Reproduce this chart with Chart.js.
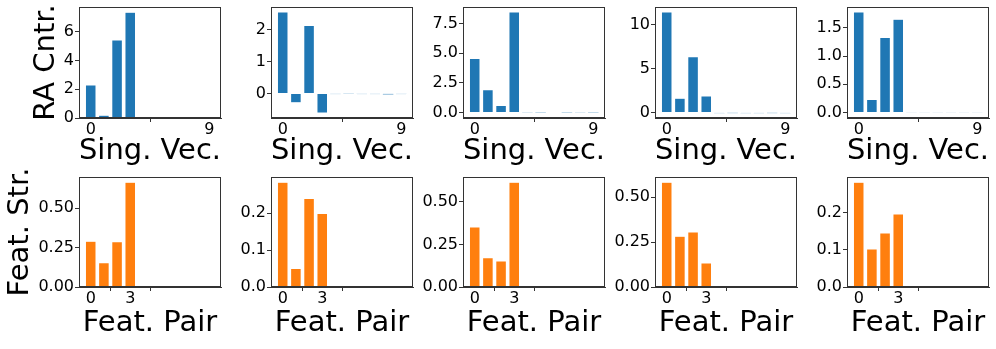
<!DOCTYPE html>
<html>
<head>
<meta charset="utf-8">
<script src="https://cdn.jsdelivr.net/npm/chart.js@4.4.0/dist/chart.umd.min.js"></script>
<style>
  body { margin: 0; background: #fff; width: 996px; height: 349px; overflow: hidden; position: relative; }
  canvas { position: absolute; }
</style>
</head>
<body>
<script>
// singular vector / feature pair index
const categories = [0, 1, 2, 3, 4, 5, 6, 7, 8, 9];

// top row: RA contribution per singular vector
const raCntr1 = [2.29, 0.19, 5.43, 7.36, 0, 0, 0, 0, 0, 0];
const raCntr2 = [2.54, -0.29, 2.12, -0.61, -0.02, -0.01, -0.02, -0.02, -0.03, -0.02];
const raCntr3 = [4.56, 1.93, 0.59, 8.49, -0.03, -0.02, -0.04, -0.02, -0.03, -0.02];
const raCntr4 = [11.43, 1.62, 6.34, 1.88, -0.04, -0.03, -0.04, -0.04, -0.03, -0.04];
const raCntr5 = [1.78, 0.23, 1.33, 1.65, -0.01, -0.01, -0.01, -0.01, -0.01, -0.01];

// bottom row: feature strength per feature pair
const featStr1 = [0.291, 0.154, 0.287, 0.665, 0, 0, 0, 0, 0, 0];
const featStr2 = [0.284, 0.050, 0.240, 0.199, 0, 0, 0, 0, 0, 0];
const featStr3 = [0.351, 0.171, 0.152, 0.614, 0, 0, 0, 0, 0, 0];
const featStr4 = [0.583, 0.283, 0.306, 0.133, 0, 0, 0, 0, 0, 0];
const featStr5 = [0.281, 0.102, 0.145, 0.196, 0, 0, 0, 0, 0, 0];

// tick labels
const topYTicks = [['0', '2', '4', '6'], ['0', '1', '2'], ['0.0', '2.5', '5.0', '7.5'], ['0', '5', '10'], ['0.0', '0.5', '1.0', '1.5']];
const bottomYTicks = [['0.00', '0.25', '0.50'], ['0.0', '0.1', '0.2'], ['0.00', '0.25', '0.50'], ['0.00', '0.25', '0.50'], ['0.0', '0.1', '0.2']];
const topXTicks = ['0', '9'];
const bottomXTicks = ['0', '3'];

Chart.defaults.font.family = "'DejaVu Sans', sans-serif";
Chart.defaults.color = '#000';

const colLeft = [79, 271, 463, 655, 847];
const axW = 142;
const padR = 8;

const rows = [
  { axT: 7, axH: 111, padT: 7, xH: 51, firstYW: 50, color: '#1f77b4',
    series: [raCntr1, raCntr2, raCntr3, raCntr4, raCntr5],
    yTicks: topYTicks, xTicks: topXTicks, xTitle: 'Sing. Vec.', yTitle: 'RA Cntr.' },
  { axT: 177, axH: 110, padT: 14, xH: 54, firstYW: 76, color: '#ff7f0e',
    series: [featStr1, featStr2, featStr3, featStr4, featStr5],
    yTicks: bottomYTicks, xTicks: bottomXTicks, xTitle: 'Feat. Pair', yTitle: 'Feat. Str.' }
];

// matplotlib-like limits (5% margins, bars stick to zero)
function ylim(vals) {
  const mn = Math.min(0, ...vals), mx = Math.max(0, ...vals);
  const m = 0.05 * (mx - mn);
  return [mn < 0 ? mn - m : 0, mx + m];
}
function xlim(n) {
  const lo = -0.4, hi = n - 1 + 0.4, m = 0.05 * (hi - lo);
  return [lo - m, hi + m];
}

// top and right spines
const frame = {
  id: 'frame',
  afterDraw(chart) {
    const a = chart.chartArea, ctx = chart.ctx;
    ctx.save();
    ctx.strokeStyle = '#333';
    ctx.lineWidth = 1;
    const l = Math.round(a.left) + 0.5, t = Math.round(a.top) + 0.5;
    const r = Math.round(a.right) - 0.5, b = Math.round(a.bottom) - 0.5;
    ctx.strokeRect(l, t, r - l, b - t);
    ctx.restore();
  }
};

function makePanel(row, col) {
  const vals = row.series[col];
  const yW = col === 0 ? row.firstYW : 50;
  const w = yW + axW + padR, h = row.padT + row.axH + row.xH;
  const cv = document.createElement('canvas');
  cv.width = w; cv.height = h;
  cv.style.width = w + 'px'; cv.style.height = h + 'px';
  cv.style.left = (colLeft[col] - yW) + 'px';
  cv.style.top = (row.axT - row.padT) + 'px';
  document.body.appendChild(cv);

  const [ylo, yhi] = ylim(vals);
  const [xlo, xhi] = xlim(vals.length);
  const yLabels = row.yTicks[col];

  new Chart(cv, {
    type: 'bar',
    data: {
      datasets: [{
        data: categories.map((c, i) => ({ x: c, y: vals[i] })),
        backgroundColor: row.color,
        borderColor: 'rgba(255,255,255,0.5)',
        borderWidth: ctx => Math.abs(ctx.raw.y) > 0.02 * (yhi - ylo) ? 0.5 : 0,
        borderSkipped: 'start',
        barPercentage: 0.8,
        categoryPercentage: 1
      }]
    },
    options: {
      responsive: false,
      animation: false,
      devicePixelRatio: 1,
      layout: { padding: { top: row.padT, right: padR, left: 0, bottom: 0 } },
      plugins: { legend: { display: false }, tooltip: { enabled: false } },
      scales: {
        x: {
          type: 'linear', min: xlo, max: xhi, offset: false,
          afterBuildTicks: s => { s.ticks = row.xTicks.map(t => ({ value: Number(t) })); },
          afterFit: s => { s.height = row.xH; s.paddingLeft = 0; s.paddingRight = 0; },
          ticks: { autoSkip: false, maxRotation: 0, padding: 0, font: { size: 16, lineHeight: 1 },
                   callback: (v, i) => row.xTicks[i] },
          grid: { drawOnChartArea: false, tickLength: 4, color: '#333' },
          border: { color: '#333' },
          title: { display: true, text: row.xTitle, font: { size: 29 }, padding: 0, color: '#000' }
        },
        y: {
          min: ylo, max: yhi,
          afterBuildTicks: s => { s.ticks = yLabels.map(t => ({ value: Number(t) })); },
          afterFit: s => { s.width = yW; s.paddingTop = 0; s.paddingBottom = 0; },
          ticks: { padding: 1, font: { size: 16 }, callback: (v, i) => yLabels[i] },
          grid: { drawOnChartArea: false, tickLength: 4, color: '#333' },
          border: { color: '#333' },
          title: { display: col === 0, text: row.yTitle, font: { size: 29 }, padding: 0, color: '#000' }
        }
      }
    },
    plugins: [frame]
  });
}

rows.forEach(row => colLeft.forEach((_, col) => makePanel(row, col)));
</script>
</body>
</html>
